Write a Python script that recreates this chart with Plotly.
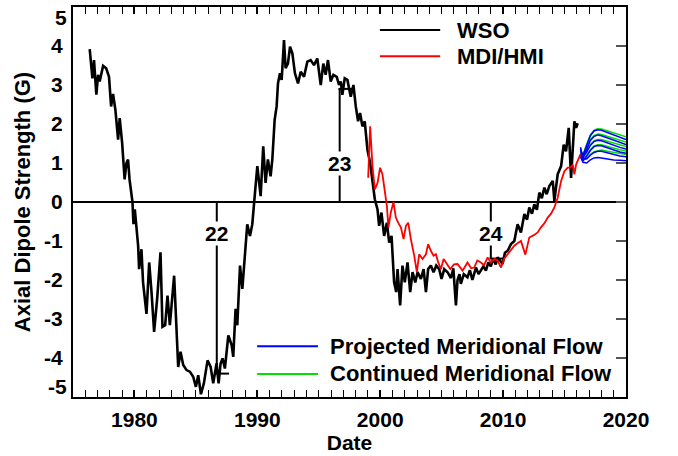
import plotly.graph_objects as go

# ---------------- data ----------------
wso_year = [1976.36, 1976.58, 1976.71, 1976.9, 1977.04, 1977.17, 1977.45, 1977.7, 1977.93, 1978.1,
            1978.26, 1978.45, 1978.67, 1978.8, 1979.0, 1979.2, 1979.35, 1979.48, 1979.6, 1979.84,
            1979.92, 1980.03, 1980.3, 1980.38, 1980.57, 1980.7, 1980.98, 1981.2, 1981.39, 1981.6,
            1981.85, 1982.12, 1982.28, 1982.5, 1982.69, 1982.88, 1983.02, 1983.23, 1983.56, 1983.75,
            1983.97, 1984.24, 1984.51, 1984.78, 1985.0, 1985.19, 1985.41, 1985.65, 1985.95, 1986.2,
            1986.41, 1986.68, 1986.85, 1987.01, 1987.17, 1987.36, 1987.64, 1987.91, 1988.04, 1988.23,
            1988.37, 1988.59, 1988.78, 1989.0, 1989.18, 1989.4, 1989.59, 1989.81, 1990.0, 1990.27,
            1990.48, 1990.67, 1990.86, 1991.08, 1991.22, 1991.41, 1991.57, 1991.68, 1991.84, 1991.98,
            1992.17, 1992.3, 1992.49, 1992.66, 1992.85, 1993.06, 1993.31, 1993.53, 1993.8, 1994.07,
            1994.34, 1994.61, 1994.88, 1995.16, 1995.37, 1995.56, 1995.75, 1995.97, 1996.19, 1996.46,
            1996.65, 1996.79, 1996.92, 1997.11, 1997.33, 1997.6, 1997.82, 1998.01, 1998.2, 1998.36,
            1998.55, 1998.74, 1998.96, 1999.18, 1999.37, 1999.56, 1999.78, 1999.91, 2000.1, 2000.32,
            2000.54, 2000.73, 2000.92, 2001.13, 2001.3, 2001.41, 2001.62, 2001.81, 2002.0, 2002.22,
            2002.44, 2002.63, 2002.85, 2003.04, 2003.31, 2003.53, 2003.72, 2003.9, 2004.12, 2004.34,
            2004.56, 2004.8, 2004.99, 2005.21, 2005.48, 2005.75, 2005.95, 2006.16, 2006.29, 2006.45,
            2006.56, 2006.8, 2007.1, 2007.3, 2007.5, 2007.79, 2008.0, 2008.19, 2008.4, 2008.6,
            2008.8, 2009.0, 2009.2, 2009.4, 2009.55, 2009.75, 2009.96, 2010.15, 2010.37, 2010.64,
            2010.91, 2011.18, 2011.45, 2011.73, 2011.95, 2012.13, 2012.35, 2012.54, 2012.75, 2012.95,
            2013.15, 2013.36, 2013.55, 2013.76, 2014.04, 2014.17, 2014.44, 2014.72, 2014.93, 2015.12,
            2015.34, 2015.53, 2015.67, 2015.8, 2015.94, 2016.07]
wso_val = [3.92, 3.17, 3.64, 2.75, 3.26, 3.09, 3.49, 3.43, 3.21, 2.45,
           2.77, 2.36, 1.6, 2.15, 1.51, 0.58, 1.0, 1.09, 0.58, 0.0,
           -0.57, -0.19, -1.12, -1.72, -1.21, -2.06, -2.87, -1.55, -2.31, -3.33,
           -2.48, -1.29, -3.2, -3.16, -2.4, -3.16, -2.65, -1.89, -4.23, -3.84,
           -4.18, -4.31, -4.35, -4.48, -4.74, -4.44, -4.93, -4.65, -4.06, -4.23,
           -4.65, -4.14, -4.65, -4.14, -4.01, -4.27, -3.42, -3.67, -3.97, -2.74,
           -3.16, -1.63, -2.23, -1.29, -0.57, -0.87, -0.57, 0.24, 0.92, 0.15,
           1.43, 0.49, 1.09, 0.66, 1.09, 2.11, 2.45, 3.04, 3.3, 3.13,
           4.15, 3.43, 3.55, 3.98, 3.81, 3.3, 3.04, 3.34, 3.21, 3.6,
           3.64, 3.51, 3.68, 3.0, 3.55, 3.26, 3.64, 3.09, 3.26, 3.21,
           3.0, 3.09, 2.75, 3.17, 3.13, 2.7, 3.0, 2.45, 2.07, 2.28,
           1.94, 2.07, 1.34, 1.0, 0.58, 0.07, -0.19, -0.61, -0.27, -0.87,
           -0.53, -1.04, -0.87, -2.06, -2.31, -1.72, -2.65, -1.63, -2.06, -1.55,
           -2.31, -1.8, -2.06, -1.8, -1.97, -1.72, -2.31, -1.72, -1.63, -1.8,
           -1.63, -1.72, -1.97, -1.72, -1.8, -1.95, -1.7, -2.65, -2.0, -1.85,
           -2.1, -1.85, -1.93, -1.75, -2.0, -1.68, -1.85, -1.76, -1.65, -1.76,
           -1.55, -1.65, -1.45, -1.6, -1.42, -1.5, -1.59, -1.3, -1.25, -1.08,
           -1.0, -0.57, -0.78, -0.31, -0.45, -0.14, -0.3, -0.06, -0.2, 0.24,
           0.1, 0.37, 0.2, 0.41, 0.54, 0.03, 0.71, 0.92, 1.47, 1.3,
           1.9, 0.62, 1.3, 2.07, 1.9, 2.02]

mdi_year = [1999.02, 1999.18, 1999.37, 1999.56, 1999.78, 1999.99, 2000.18, 2000.37, 2000.54, 2000.67,
            2000.86, 2001.08, 2001.27, 2001.46, 2001.68, 2001.9, 2002.09, 2002.28, 2002.49, 2002.77,
            2002.98, 2003.17, 2003.44, 2003.72, 2003.9, 2004.12, 2004.34, 2004.53, 2004.72, 2004.94,
            2005.16, 2005.35, 2005.7, 2006.0, 2006.29, 2006.7, 2007.1, 2007.4, 2007.65, 2007.9,
            2008.19, 2008.45, 2008.74, 2009.0, 2009.28, 2009.55, 2009.83, 2010.1, 2010.37, 2010.65,
            2010.91, 2011.2, 2011.45, 2011.81, 2012.13, 2012.5, 2012.81, 2013.08, 2013.35, 2013.63,
            2013.9, 2014.17, 2014.44, 2014.72, 2014.99, 2015.26, 2015.48, 2015.67, 2015.8, 2015.94,
            2016.13, 2016.29]
mdi_val = [0.62, 1.94, 0.92, 0.32, 0.49, 0.88, 0.71, 0.24, -0.1, -0.65,
           -0.27, 0.0, -0.4, -0.53, -0.65, -0.95, -0.61, -0.53, -0.95, -1.38,
           -1.8, -1.34, -1.46, -1.34, -1.08, -1.25, -1.38, -1.34, -1.55, -1.72,
           -1.46, -1.55, -1.72, -1.6, -1.59, -1.76, -1.55, -1.7, -1.68, -1.5,
           -1.55, -1.62, -1.42, -1.55, -1.46, -1.5, -1.68, -1.45, -1.34, -1.25,
           -1.12, -1.05, -1.0, -1.35, -0.91, -0.85, -0.78, -0.65, -0.55, -0.4,
           -0.3, -0.14, 0.11, 0.54, 0.79, 0.88, 0.88, 0.96, 0.71, 0.96,
           1.13, 1.22]

proj_year = [2016.3, 2016.5, 2016.8, 2017.1, 2017.4, 2017.7, 2018.0, 2018.5, 2019.0, 2019.5, 2020.0]
projected = [
    [1.30, 1.20, 1.45, 1.70, 1.82, 1.85, 1.84, 1.78, 1.72, 1.66, 1.60],
    [1.25, 1.12, 1.35, 1.58, 1.68, 1.72, 1.70, 1.64, 1.58, 1.52, 1.47],
    [1.35, 1.15, 1.28, 1.45, 1.55, 1.58, 1.57, 1.51, 1.45, 1.40, 1.36],
    [1.20, 1.05, 1.18, 1.32, 1.42, 1.45, 1.44, 1.38, 1.33, 1.28, 1.25],
    [1.40, 1.10, 1.10, 1.20, 1.27, 1.30, 1.30, 1.26, 1.22, 1.18, 1.16],
    [1.15, 1.02, 1.00, 1.08, 1.13, 1.14, 1.13, 1.10, 1.08, 1.07, 1.06],
]
continued = [
    [1.30, 1.22, 1.48, 1.72, 1.84, 1.88, 1.87, 1.82, 1.77, 1.72, 1.67],
    [1.25, 1.14, 1.38, 1.60, 1.70, 1.74, 1.73, 1.68, 1.63, 1.58, 1.54],
    [1.35, 1.16, 1.30, 1.47, 1.57, 1.60, 1.60, 1.55, 1.50, 1.46, 1.42],
    [1.20, 1.06, 1.20, 1.34, 1.44, 1.47, 1.47, 1.42, 1.38, 1.34, 1.31],
    [1.40, 1.11, 1.12, 1.22, 1.29, 1.32, 1.33, 1.30, 1.27, 1.24, 1.22],
]

cycle_labels = ["22", "23", "24"]
cycle_years = [1986.7, 1996.7, 2009.0]
cycle_levels = [-4.4, 2.9, -1.45]

y_ticks = [-5, -4, -3, -2, -1, 0, 1, 2, 3, 4, 5]
x_ticks = [1980, 1990, 2000, 2010, 2020]

# ---------------- figure ----------------
FONT = "Liberation Sans, Arial, Helvetica, sans-serif"
fig = go.Figure()

# cycle minimum markers
for lab, yr, lev in zip(cycle_labels, cycle_years, cycle_levels):
    fig.add_trace(go.Scatter(x=[yr, yr], y=[0, lev], mode="lines",
                             line=dict(color="black", width=2), showlegend=False, hoverinfo="skip"))
    fig.add_trace(go.Scatter(x=[yr - 0.1, yr + 1.0], y=[lev, lev], mode="lines",
                             line=dict(color="black", width=2), showlegend=False, hoverinfo="skip"))

for c in continued:
    fig.add_trace(go.Scatter(x=proj_year, y=c, mode="lines",
                             line=dict(color="#00e000", width=1.5), showlegend=False))
for p in projected:
    fig.add_trace(go.Scatter(x=proj_year, y=p, mode="lines",
                             line=dict(color="#0000ff", width=1.5), showlegend=False))

fig.add_trace(go.Scatter(x=wso_year, y=wso_val, mode="lines",
                         line=dict(color="black", width=2.6), showlegend=False))
fig.add_trace(go.Scatter(x=mdi_year, y=mdi_val, mode="lines",
                         line=dict(color="#ff0000", width=1.8), showlegend=False))

# invisible trace to activate right-hand y axis (ticks only)
fig.add_trace(go.Scatter(x=[1975], y=[0], yaxis="y2", mode="markers",
                         marker=dict(opacity=0), showlegend=False, hoverinfo="skip"))

tick_font = dict(family=FONT, size=21, color="black", weight="bold")
title_font = dict(family=FONT, size=21, color="black", weight="bold")
ytitle_font = dict(family=FONT, size=22, color="black", weight="bold")

# cycle labels (white box hides the marker line behind text)
for lab, yr, lev in zip(cycle_labels, cycle_years, cycle_levels):
    ylab = 1.0 if lev > 0 else -0.82
    fig.add_annotation(x=yr, y=ylab, text=lab, showarrow=False, bgcolor="white",
                       borderpad=0, font=tick_font)

# end tick labels of the y axis, nudged inside the frame as in the original
y_lo, y_hi = y_ticks[0], y_ticks[-1]
fig.add_annotation(xref="paper", yref="y", x=0, y=y_hi, text=str(y_hi), showarrow=False,
                   xanchor="right", yanchor="top", xshift=-4, yshift=3, font=tick_font)
fig.add_annotation(xref="paper", yref="y", x=0, y=y_lo, text=str(y_lo), showarrow=False,
                   xanchor="right", yanchor="bottom", xshift=-4, yshift=-3, font=tick_font)

# manual legends
legend_items = [
    ("WSO", "black", 0.555, 0.664, 0.941, 0.691),
    ("MDI/HMI", "#ff0000", 0.555, 0.664, 0.874, 0.691),
    ("Projected Meridional Flow", "#0000ff", 0.333, 0.443, 0.130, 0.462),
    ("Continued Meridional Flow", "#00e000", 0.333, 0.443, 0.059, 0.462),
]
for txt, col, x0, x1, yy, xt in legend_items:
    fig.add_shape(type="line", xref="paper", yref="paper", x0=x0, x1=x1, y0=yy, y1=yy,
                  line=dict(color=col, width=2))
    fig.add_annotation(xref="paper", yref="paper", x=xt, y=yy, text=txt, showarrow=False,
                       xanchor="left", yanchor="middle",
                       font=dict(family=FONT, size=22, color="black", weight="bold"))

inner_ticks = y_ticks[1:-1]
fig.update_layout(
    width=678, height=456,
    margin=dict(l=73, r=52, t=5, b=59),
    paper_bgcolor="white", plot_bgcolor="white",
    showlegend=False,
    font=dict(family=FONT, color="black"),
    xaxis=dict(range=[1975, 2020], tickvals=x_ticks, ticktext=[str(v) for v in x_ticks],
               ticks="inside", ticklen=7, tickwidth=1.5, tickcolor="black",
               minor=dict(dtick=1, ticks="inside", ticklen=4, tickwidth=1, tickcolor="black"),
               showline=True, linecolor="black", linewidth=2, mirror="allticks",
               showgrid=False, zeroline=False, tickfont=tick_font, ticklabelstandoff=3,
               title=dict(text="Date", font=title_font, standoff=0)),
    yaxis=dict(range=[-5, 5], tickvals=inner_ticks, ticktext=[str(v) for v in inner_ticks],
               ticks="", showline=True, linecolor="black", linewidth=2, mirror=True,
               showgrid=False, zeroline=True, zerolinecolor="black", zerolinewidth=1.5,
               tickfont=tick_font, ticklabelstandoff=4, automargin=False,
               title=dict(text="Axial Dipole Strength (G)", font=ytitle_font, standoff=7)),
    yaxis2=dict(range=[-5, 5], overlaying="y", side="right", tickvals=y_ticks,
                showticklabels=False, ticks="inside", ticklen=10, tickwidth=1.5,
                tickcolor="#555555", showgrid=False, zeroline=False, showline=False),
)

fig.write_html("out.html")
